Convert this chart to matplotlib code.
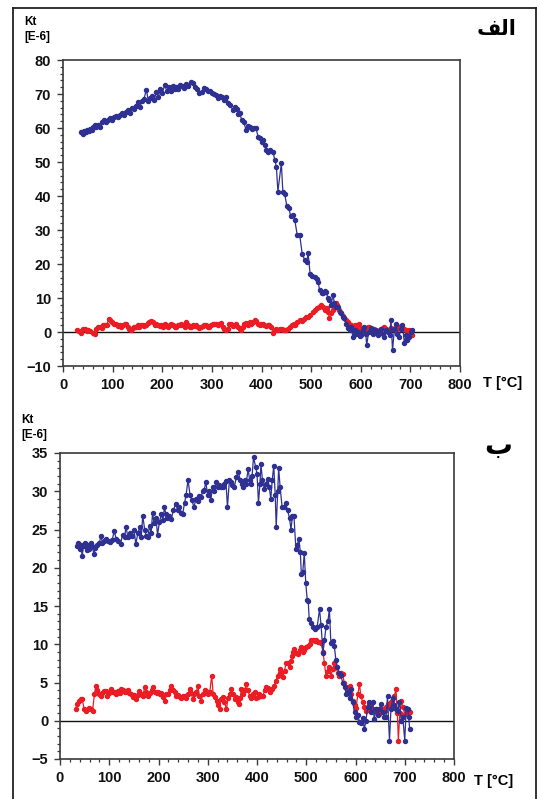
import matplotlib
matplotlib.use("Agg")
import matplotlib.pyplot as plt
from matplotlib.lines import Line2D
from matplotlib.ticker import MultipleLocator

# ---- panel (a): Kt vs temperature ----
t_a_blue = [37, 40, 43, 46, 49, 52, 55, 58, 61, 64, 67, 71, 75, 79, 83, 87, 91, 94, 98, 102,
            106, 110, 114, 118, 122, 126, 131, 135, 139, 143, 147, 151, 155, 159, 163, 168, 172, 176, 180, 184,
            188, 192, 196, 200, 205, 209, 213, 217, 221, 225, 228, 232, 236, 240, 244, 248, 252, 257, 261, 265,
            270, 275, 280, 285, 289, 293, 297, 301, 305, 309, 313, 317, 321, 325, 329, 333, 337, 342, 346, 350,
            353, 356, 360, 364, 369, 373, 377, 381, 385, 389, 393, 396, 400, 403, 407, 410, 414, 418, 423, 427,
            430, 433, 440, 443, 447, 451, 455, 459, 463, 467, 472, 477, 482, 487, 491, 494, 498, 502, 507, 511,
            514, 517, 521, 524, 527, 530, 534, 537, 540, 544, 547, 551, 554, 558, 561, 564, 567, 571, 574, 578,
            581, 584, 588, 591, 594, 598, 601, 604, 607, 610, 612, 616, 621, 624, 628, 631, 635, 638, 641, 644,
            647, 651, 654, 658, 661, 664, 668, 671, 674, 677, 681, 684, 688, 691, 694, 698, 701, 704]
k_a_blue = [58.9, 58.3, 59.0, 58.8, 59.4, 59.2, 59.8, 59.5, 60.3, 60.8, 60.4, 61.0, 60.2, 61.8, 62.3, 61.7, 62.5, 62.8, 62.4, 63.2,
            63.6, 63.1, 63.8, 64.5, 63.9, 64.8, 65.3, 64.5, 66.0, 65.6, 66.5, 67.7, 66.3, 67.8, 68.5, 71.2, 68.0, 68.8, 69.5, 68.3,
            70.7, 69.0, 71.5, 70.2, 72.6, 71.0, 72.0, 70.8, 72.5, 71.6, 72.2, 71.4, 72.6, 72.4, 71.7, 72.8, 72.5, 73.6, 73.2, 72.0,
            71.6, 70.2, 70.6, 71.7, 71.4, 70.9, 71.0, 70.3, 70.0, 69.7, 68.8, 69.3, 69.0, 68.2, 69.2, 67.5, 66.8, 65.3, 66.2, 65.5,
            64.0, 64.3, 62.5, 61.8, 59.4, 60.5, 60.2, 59.6, 60.0, 59.9, 57.5, 57.0, 55.8, 56.5, 55.0, 53.5, 52.8, 53.5, 53.0, 50.5,
            48.6, 41.3, 49.6, 41.3, 40.5, 37.0, 36.5, 34.0, 34.5, 33.0, 28.5, 28.5, 23.0, 21.2, 20.5, 23.1, 17.0, 16.5, 16.3, 15.5,
            14.8, 12.4, 11.5, 11.4, 12.0, 11.9, 10.0, 9.4, 8.0, 10.9, 8.4, 7.5, 7.4, 6.0, 5.5, 4.5, 4.0, 2.5, 1.1, 0.5,
            1.5, -1.4, 0.5, -0.5, 0.0, -1.2, -1.0, 0.5, 1.5, -0.5, -3.8, 0.0, 1.1, -0.5, 0.5, 0.0, -1.0, 0.5, 1.0, -0.5,
            -1.4, 0.5, 0.0, -0.8, 3.5, -5.3, 1.0, 2.5, -0.5, -1.4, 1.0, 2.0, -3.3, -1.0, -2.4, -1.5, 0.0, 0.5]

t_a_red = [29, 33, 37, 41, 44, 48, 51, 55, 60, 64, 67, 71, 74, 78, 81, 84, 88, 92, 95, 99,
           103, 107, 110, 114, 117, 121, 124, 127, 131, 134, 137, 141, 144, 147, 151, 154, 157, 161, 164, 168,
           171, 174, 178, 181, 185, 188, 192, 195, 198, 202, 205, 208, 212, 215, 218, 222, 225, 228, 232, 235,
           238, 242, 245, 248, 252, 255, 258, 262, 265, 268, 272, 275, 278, 282, 285, 288, 292, 295, 298, 302,
           305, 308, 312, 315, 318, 322, 325, 329, 332, 335, 339, 342, 346, 349, 352, 356, 359, 362, 365, 369,
           372, 376, 379, 382, 386, 389, 392, 396, 399, 403, 406, 410, 413, 416, 420, 423, 427, 430, 434, 437,
           441, 444, 448, 450, 454, 458, 461, 465, 468, 472, 477, 481, 485, 490, 494, 498, 504, 508, 512, 516,
           520, 523, 527, 531, 534, 537, 541, 544, 547, 550, 553, 557, 561, 564, 567, 570, 574, 577, 581, 584,
           588, 591, 594, 597, 601, 604, 607, 611, 614, 617, 621, 624, 627, 631, 634, 637, 641, 644, 647, 651,
           654, 657, 661, 664, 667, 671, 674, 677, 681, 684, 688, 691, 694, 698, 701, 704]
k_a_red = [0.6, 0.2, -0.4, 1.0, 1.0, 0.3, 0.5, 0.2, -0.3, -0.7, 0.8, 1.5, 1.5, 1.2, 2.0, 2.0, 2.2, 3.7, 3.5, 2.8,
           2.5, 2.5, 1.8, 2.0, 1.5, 2.2, 2.5, 2.5, 1.5, 0.8, 0.5, 1.2, 1.5, 1.5, 2.0, 1.5, 2.0, 2.2, 1.8, 2.0,
           2.6, 3.0, 3.3, 2.8, 2.2, 2.5, 2.0, 1.7, 2.0, 1.5, 2.3, 2.0, 1.5, 2.2, 2.5, 2.0, 1.5, 1.5, 2.0, 2.2,
           2.5, 2.0, 1.5, 3.0, 2.2, 1.5, 1.5, 2.0, 1.7, 2.0, 1.5, 1.2, 1.5, 1.8, 2.0, 2.0, 1.5, 1.5, 2.0, 2.3,
           2.5, 2.5, 2.0, 2.5, 2.7, 1.5, 0.8, 0.5, 1.0, 2.5, 2.5, 1.8, 2.0, 2.5, 1.5, 0.8, 0.5, 1.5, 2.5, 2.7,
           2.0, 3.0, 2.5, 3.0, 3.5, 3.3, 2.5, 2.0, 2.5, 2.5, 2.0, 1.8, 2.0, 2.0, 1.5, -0.4, 0.5, 1.0, 0.5, 1.0,
           0.8, 0.5, 0.5, 0.5, 1.0, 1.5, 2.0, 2.5, 2.2, 3.0, 3.5, 3.3, 3.8, 4.5, 4.3, 5.0, 6.0, 6.5, 7.0, 7.4,
           8.0, 7.5, 6.5, 7.2, 6.0, 4.0, 5.5, 6.5, 7.5, 8.6, 7.8, 6.5, 5.5, 4.8, 4.0, 3.5, 3.0, 2.5, 2.0, 1.5,
           2.0, 1.0, 2.0, 2.5, 1.2, 0.5, -0.4, 0.5, 1.5, 1.5, 0.8, 1.0, 1.0, 0.5, 0.3, 0.0, 0.8, 1.2, 1.5, 1.0,
           0.5, 0.5, 1.2, 1.0, 1.0, 0.5, 1.2, 1.5, 1.8, 1.2, 1.0, 0.5, 0.0, 0.5, -0.5, -1.0]

# ---- panel (b) ----
t_b_blue = [35, 37, 40, 42, 45, 48, 51, 54, 56, 59, 62, 65, 69, 72, 76, 80, 83, 86, 90, 94,
            98, 102, 106, 110, 114, 118, 123, 127, 131, 134, 138, 142, 146, 150, 154, 158, 162, 165, 168, 172,
            175, 178, 182, 185, 188, 191, 195, 198, 202, 206, 209, 212, 215, 218, 222, 226, 230, 235, 239, 242,
            246, 249, 253, 256, 260, 264, 268, 272, 276, 280, 283, 286, 290, 293, 296, 300, 303, 306, 310, 313,
            317, 320, 323, 327, 330, 334, 337, 340, 344, 347, 350, 354, 358, 362, 366, 369, 371, 375, 378, 382,
            385, 387, 390, 393, 397, 400, 403, 406, 408, 411, 415, 418, 422, 425, 428, 431, 434, 437, 439, 442,
            444, 447, 451, 455, 458, 462, 466, 469, 472, 475, 479, 482, 485, 488, 490, 493, 496, 499, 502, 504,
            506, 510, 513, 517, 522, 527, 530, 534, 537, 540, 544, 547, 550, 554, 557, 560, 563, 567, 570, 574,
            578, 581, 585, 588, 591, 594, 598, 601, 605, 608, 611, 615, 618, 621, 625, 628, 631, 635, 638, 642,
            645, 648, 652, 655, 658, 662, 665, 669, 672, 676, 679, 682, 686, 689, 693, 696, 700, 703, 706, 708,
            710]
k_b_blue = [22.8, 23.3, 22.5, 23.0, 21.6, 22.8, 23.2, 22.3, 23.0, 22.5, 23.2, 22.8, 21.8, 22.6, 23.0, 23.2, 24.2, 23.3, 23.5, 23.8,
            23.5, 23.4, 23.6, 24.8, 23.8, 23.5, 23.1, 24.3, 24.0, 25.3, 24.0, 24.6, 24.2, 25.0, 23.1, 24.5, 25.3, 24.0, 26.8, 25.0,
            24.2, 24.0, 25.5, 24.5, 27.2, 25.8, 26.5, 24.3, 26.0, 27.0, 26.2, 27.9, 27.0, 26.5, 26.8, 26.4, 27.5, 28.3, 27.5, 28.0,
            27.2, 27.0, 28.5, 29.5, 31.5, 29.5, 28.8, 27.9, 29.0, 28.7, 29.4, 29.2, 30.0, 30.2, 31.2, 29.5, 30.0, 28.8, 30.6, 30.0,
            31.2, 30.5, 30.8, 30.5, 30.5, 31.0, 31.3, 27.9, 31.5, 31.2, 30.8, 30.6, 31.8, 32.5, 31.5, 31.0, 30.6, 31.5, 31.0, 32.9,
            31.5, 30.9, 32.0, 34.5, 33.2, 32.3, 28.5, 31.0, 33.5, 31.5, 30.3, 31.0, 31.6, 30.5, 29.0, 31.5, 33.3, 29.5, 25.3, 30.0,
            33.0, 30.5, 27.9, 28.0, 28.5, 27.5, 26.5, 25.0, 26.8, 26.8, 22.4, 23.0, 23.8, 22.0, 19.2, 19.5, 21.9, 18.0, 15.8, 15.6,
            13.3, 12.8, 12.2, 12.0, 12.2, 14.6, 12.5, 8.9, 10.5, 12.2, 13.0, 14.6, 10.2, 10.4, 9.8, 8.0, 7.0, 6.3, 6.0, 5.0,
            4.4, 3.5, 3.8, 3.0, 4.2, 2.5, 1.1, 0.5, 0.8, -0.2, -0.3, 0.3, -1.1, 0.0, 1.8, 2.4, 1.2, 2.5, 0.2, 1.5,
            0.8, 1.5, 2.2, 1.2, 0.5, 0.5, 3.2, -2.6, 1.5, 3.0, 2.0, 1.5, 1.3, 2.5, 0.0, 0.5, -2.6, 1.7, 1.5, 0.5,
            -1.1]

t_b_red = [32, 35, 39, 42, 45, 49, 52, 56, 59, 63, 66, 70, 73, 76, 80, 83, 86, 90, 93, 96,
           100, 103, 107, 110, 114, 117, 121, 124, 127, 131, 134, 138, 141, 144, 148, 151, 155, 158, 161, 165,
           168, 172, 175, 179, 182, 186, 189, 192, 196, 199, 203, 206, 209, 213, 216, 219, 223, 226, 229, 233,
           236, 240, 243, 246, 250, 253, 256, 260, 263, 266, 270, 273, 277, 280, 283, 287, 290, 294, 297, 300,
           304, 308, 311, 314, 318, 321, 324, 327, 331, 334, 338, 341, 345, 348, 351, 355, 358, 361, 363, 366,
           368, 371, 375, 378, 381, 385, 388, 392, 395, 398, 402, 405, 409, 412, 416, 419, 423, 427, 431, 435,
           438, 442, 446, 449, 452, 456, 459, 462, 466, 469, 471, 474, 476, 480, 483, 487, 490, 493, 496, 500,
           503, 507, 510, 514, 517, 520, 524, 527, 530, 534, 537, 540, 544, 547, 550, 554, 557, 560, 564, 567,
           571, 574, 577, 581, 584, 588, 591, 594, 598, 601, 605, 608, 611, 615, 618, 621, 625, 628, 631, 635,
           638, 641, 645, 648, 652, 655, 659, 662, 665, 669, 672, 675, 679, 682, 685, 687, 690, 693, 696, 700,
           703, 706, 710]
k_b_red = [1.5, 2.2, 2.6, 2.8, 2.8, 1.6, 1.3, 1.5, 1.7, 1.5, 1.3, 3.5, 4.6, 4.0, 3.5, 3.3, 3.6, 3.9, 3.9, 3.2,
           3.6, 4.1, 3.7, 3.8, 3.5, 3.9, 3.6, 4.1, 4.0, 3.7, 3.9, 4.0, 3.6, 3.5, 3.1, 3.4, 2.8, 3.4, 3.9, 3.5,
           3.2, 4.4, 3.8, 3.3, 3.6, 4.0, 4.4, 3.8, 3.6, 3.7, 3.5, 3.6, 3.1, 2.6, 3.5, 3.5, 4.0, 4.6, 4.0, 3.7,
           3.2, 3.4, 3.1, 3.0, 3.3, 3.3, 3.0, 3.5, 4.1, 3.6, 2.8, 3.5, 3.8, 4.6, 3.2, 2.6, 3.5, 4.0, 3.9, 3.5,
           3.7, 5.9, 3.5, 3.1, 2.6, 2.0, 1.5, 2.8, 3.1, 2.5, 1.5, 3.0, 3.5, 4.1, 3.5, 2.8, 3.1, 2.5, 2.2, 3.0,
           4.1, 3.5, 4.0, 4.8, 4.0, 3.3, 3.0, 3.5, 3.7, 3.0, 3.1, 3.5, 3.2, 3.3, 4.0, 4.4, 4.3, 3.7, 4.2, 4.6,
           5.2, 5.9, 6.8, 6.3, 5.7, 6.5, 7.6, 7.5, 7.0, 7.8, 8.5, 9.0, 9.4, 8.8, 8.7, 9.2, 9.6, 9.0, 9.2, 9.6,
           9.8, 10.0, 10.5, 10.5, 10.4, 10.5, 10.3, 10.3, 10.2, 9.0, 7.5, 5.9, 6.5, 7.0, 5.9, 6.8, 7.6, 7.0, 6.3, 5.8,
           6.2, 6.1, 5.0, 4.4, 4.0, 4.6, 3.5, 2.6, 2.0, 1.7, 3.5, 4.8, 3.2, 2.4, 1.8, 1.3, 1.5, 2.0, 2.2, 1.5,
           1.3, 1.5, 1.0, 0.9, 1.2, 1.6, 1.3, 1.8, 2.2, 2.0, 2.4, 2.6, 3.2, 4.1, 1.0, -2.6, 1.0, 2.6, 1.8, 0.9,
           1.5, 1.2, 1.1]

x_ticks = [0, 100, 200, 300, 400, 500, 600, 700, 800]
y_ticks_a = [-10, 0, 10, 20, 30, 40, 50, 60, 70, 80]
y_ticks_b = [-5, 0, 5, 10, 15, 20, 25, 30, 35]

BLUE = "#2e3192"
RED = "#ec1c24"
FRAME = "#3a3a3a"
TICK_FONT = dict(family="Liberation Sans", weight="bold", size=10.5)

W, H = 539, 799
fig = plt.figure(figsize=(W / 100, H / 100), dpi=100)
fig.patch.set_facecolor("white")


def px_axes(left, top, right, bottom):
    return fig.add_axes([left / W, 1 - bottom / H, (right - left) / W, (bottom - top) / H])


def style_panel(ax, yticks, yminor, panel_title, title_xy, title_size, unit_xy, x_label_xy):
    ax.set_xlim(0, 800)
    ax.set_ylim(yticks[0], yticks[-1])
    ax.set_xticks(x_ticks)
    ax.set_yticks(yticks)
    ax.xaxis.set_minor_locator(MultipleLocator(20))
    ax.yaxis.set_minor_locator(MultipleLocator(yminor))
    ax.tick_params(which="major", direction="out", length=4.5, width=1.0, color=FRAME, pad=4)
    ax.tick_params(which="minor", direction="out", length=2.5, width=0.9, color=FRAME)
    for lab in ax.get_xticklabels() + ax.get_yticklabels():
        lab.set_fontfamily(TICK_FONT["family"])
        lab.set_fontweight(TICK_FONT["weight"])
        lab.set_fontsize(TICK_FONT["size"])
        lab.set_color("#111111")
    for sp in ax.spines.values():
        sp.set_color(FRAME)
        sp.set_linewidth(1.2)
    ax.axhline(0, color="#111111", lw=1.0, zorder=1)
    # unit label above the y axis
    fig.text(unit_xy[0] / W, 1 - unit_xy[1] / H, "Kt", ha="left", va="center",
             fontfamily="Liberation Sans", fontweight="bold", fontsize=8.5)
    fig.text(unit_xy[0] / W, 1 - (unit_xy[1] + 15) / H, "[E-6]", ha="left", va="center",
             fontfamily="Liberation Sans", fontweight="bold", fontsize=8.5)
    # temperature axis label
    fig.text(x_label_xy[0] / W, 1 - x_label_xy[1] / H, "T [°C]", ha="left", va="center",
             fontfamily="Liberation Sans", fontweight="bold", fontsize=10.5)
    # panel letter (Arabic, right-to-left, written with presentation forms)
    fig.text(title_xy[0] / W, 1 - title_xy[1] / H, panel_title, ha="right", va="center",
             fontfamily=["DejaVu Sans"], fontweight="bold", fontsize=title_size)


def draw_series(ax, t, k, color):
    ax.plot(t, k, color=color, lw=0.9, marker="o", ms=2.9, mec=color, mfc=color, zorder=3)


ax_a = px_axes(63, 60, 460, 366)
draw_series(ax_a, t_a_red, k_a_red, RED)
draw_series(ax_a, t_a_blue, k_a_blue, BLUE)
style_panel(ax_a, y_ticks_a, 2, "\uFED2\uFEDF\uFE8D", (516, 29), 15, (24, 22), (483, 383))

ax_b = px_axes(60, 453, 454, 759)
draw_series(ax_b, t_b_red, k_b_red, RED)
draw_series(ax_b, t_b_blue, k_b_blue, BLUE)
style_panel(ax_b, y_ticks_b, 1, "\u0628", (512, 446), 20, (21, 420), (474, 781))

# surrounding box
for xs, ys in [((13, 13), (8, 799)), ((536, 536), (8, 799)), ((13, 536), (8, 8))]:
    fig.add_artist(Line2D([x / W for x in xs], [1 - y / H for y in ys], color="#222222", lw=1.3,
                          transform=fig.transFigure))

fig.savefig("out.png", dpi=100, facecolor="white")
